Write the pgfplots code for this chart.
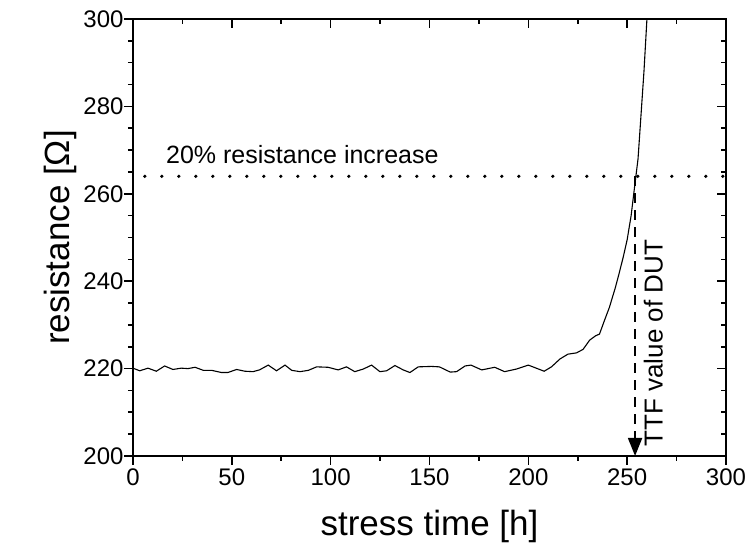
\documentclass[border=0pt]{standalone}
\usepackage{fontspec}
\setmainfont{Liberation Sans}
\usepackage{pgfplots}
\pgfplotsset{compat=1.18}
\usetikzlibrary{arrows.meta}

\begin{document}
\begin{tikzpicture}
\path[use as bounding box] (-133pt,-95pt) rectangle (614pt,456pt);
\begin{axis}[
  scale only axis,
  width=593pt, height=437pt,
  xmin=0, xmax=300, ymin=200, ymax=300,
  xtick={0,50,...,300}, ytick={200,220,...,300},
  minor x tick num=1, minor y tick num=3,
  xtick pos=bottom, ytick pos=left,
  tick align=outside,
  major tick length=9pt, minor tick length=5pt,
  every tick/.style={black, line width=1.6pt},
  axis line style={line width=1.9pt},
  /pgf/number format/assume math mode=true,
  ticklabel style={font=\fontsize{24}{28}\selectfont},
  yticklabel style={xshift=3pt},
  label style={font=\fontsize{35}{40}\selectfont},
  xlabel={stress time [h]},
  xlabel style={yshift=-18pt},
  ylabel={resistance [Ω]},
]
% measured resistance
\addplot[black, line width=1.1pt] coordinates {
(0,220.1) (3.4,219.5) (7.6,220.1) (11.8,219.4) (16,220.6) (20.2,219.8)
(24.4,220.1) (27.8,220.0) (31.4,220.3) (35.6,219.6) (39.8,219.6) (44.8,219.1)
(48,219.1) (52.4,219.8) (56.6,219.4) (60.7,219.3) (64,219.7) (68.4,220.8)
(72.6,219.5) (76.9,220.8) (80.3,219.6) (84.5,219.3) (88.7,219.6) (92.9,220.4)
(98.7,220.3) (103.8,219.7) (108,220.4) (112.2,219.3) (116.5,219.9) (120.7,220.8)
(124.9,219.3) (128.3,219.5) (132.5,220.7) (136.7,219.7) (140.1,219.1) (144.3,220.4)
(151,220.5) (155,220.4) (160.5,219.2) (163.7,219.3) (168,220.6) (171,220.8)
(176.4,219.7) (183,220.3) (188,219.3) (194,219.9) (200,220.8) (208,219.4)
(211.7,220.4) (216,222.2) (220,223.3) (224.4,223.6) (227.7,224.4) (231,226.5)
(234,227.5) (236,227.9) (238.5,231) (241,234) (244,238.5) (246,241.9)
(248,245.5) (250,249.5) (252,255) (254,262.5) (255.5,268) (257,278)
(258.5,288) (260,300) (260.5,304)
};
% 20% threshold
\addplot[black, line width=3.6pt, line cap=round, dash pattern=on 0pt off 17pt]
  coordinates {(6,264) (300,264)};
% TTF marker
\addplot[black, line width=1.8pt, dash pattern=on 10pt off 7pt,
  -{Triangle[width=14pt,length=18pt]}]
  coordinates {(254,264) (254,200)};
\node[anchor=base west, font=\fontsize{25}{30}\selectfont] at (axis cs:15,267) {20\% resistance increase};
\node[anchor=base west, rotate=90, font=\fontsize{26}{30}\selectfont] at (axis cs:268,201.4) {TTF value of DUT};
\end{axis}
\begin{axis}[
  scale only axis,
  width=593pt, height=437pt,
  xmin=0, xmax=300, ymin=200, ymax=300,
  xtick={0,50,...,300}, ytick={200,220,...,300},
  minor x tick num=1, minor y tick num=3,
  xtick pos=top, ytick pos=right,
  tick align=inside,
  major tick length=9pt, minor tick length=5pt,
  every tick/.style={black, line width=1.6pt},
  axis line style={line width=1.5pt},
  xticklabels={}, yticklabels={},
]
\end{axis}
\end{tikzpicture}
\end{document}
